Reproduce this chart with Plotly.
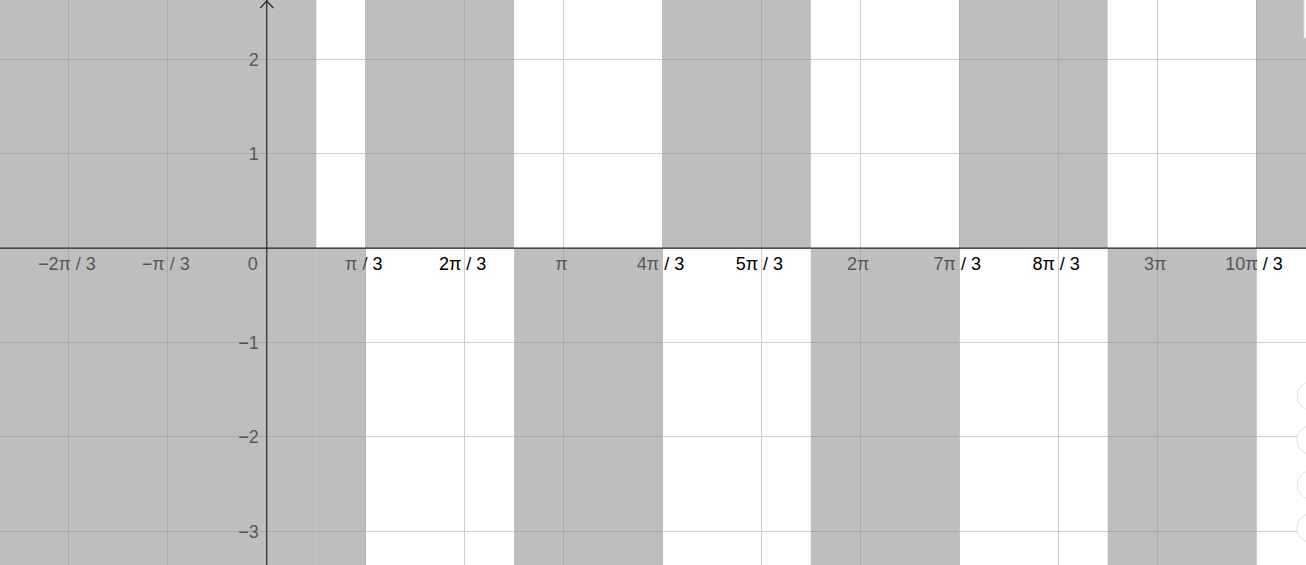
import numpy as np
import plotly.graph_objects as go

W, H = 1306, 565
PI = np.pi

# ---- data ----
# x tick positions in multiples of pi/3, and their labels
x_tick_mult = [-2, -1, 0, 1, 2, 3, 4, 5, 6, 7, 8, 9, 10]
x_tick_labels = ["−2π / 3", "−π / 3", "0", "π / 3", "2π / 3", "π", "4π / 3",
                 "5π / 3", "2π", "7π / 3", "8π / 3", "3π", "10π / 3"]
y_tick_vals = [-3, -2, -1, 1, 2]
y_tick_labels = ["−3", "−2", "−1", "1", "2"]

# shaded intervals (multiples of pi/6); upper half (y>0) and lower half (y<0)
upper_start = [-8, 2, 8, 14, 20]
upper_end = [1, 5, 11, 17, 24]
lower_start = [-8, 1, 5, 11, 17]
lower_end = [1, 2, 8, 14, 20]

x_range = [-2.824, 11.001]
y_range = [-3.356, 2.627]

# ---- styles ----
FONT = "Liberation Sans, Arial, sans-serif"
SHADE = "rgba(144,144,144,0.59)"
AXIS = "#2a2a2a"
GRID = "#cccccc"

px_x = (x_range[1] - x_range[0]) / W
px_y = (y_range[1] - y_range[0]) / H

x_grid = [m * PI / 3 for m in x_tick_mult]

fig = go.Figure()

# x tick labels (except origin)
xl = [(v, t) for v, t in zip(x_grid, x_tick_labels) if t != "0"]
fig.add_trace(go.Scatter(
    x=[v - 2 * px_x for v, _ in xl], y=[-17 * px_y] * len(xl),
    text=[t for _, t in xl], mode="text", textposition="middle center",
    textfont=dict(family=FONT, size=18, color="#000000"), hoverinfo="skip"))
# origin label
fig.add_trace(go.Scatter(
    x=[-9 * px_x], y=[-17 * px_y], text=["0"], mode="text",
    textposition="middle left",
    textfont=dict(family=FONT, size=18, color="#000000"), hoverinfo="skip"))
# y tick labels
fig.add_trace(go.Scatter(
    x=[-8 * px_x] * len(y_tick_vals), y=[v - 2 * px_y for v in y_tick_vals],
    text=y_tick_labels, mode="text", textposition="middle left",
    textfont=dict(family=FONT, size=18, color="#000000"), hoverinfo="skip"))

shapes = []
for s, e in zip(upper_start, upper_end):
    shapes.append(dict(type="rect", xref="x", yref="y", x0=s * PI / 6, x1=e * PI / 6,
                       y0=0, y1=10, fillcolor=SHADE, line=dict(width=0), layer="above"))
for s, e in zip(lower_start, lower_end):
    shapes.append(dict(type="rect", xref="x", yref="y", x0=s * PI / 6, x1=e * PI / 6,
                       y0=-10, y1=0, fillcolor=SHADE, line=dict(width=0), layer="above"))

# axes lines
shapes.append(dict(type="line", xref="paper", yref="y", x0=0, x1=1, y0=0, y1=0,
                   line=dict(color=AXIS, width=1.2), layer="above"))
shapes.append(dict(type="line", xref="x", yref="paper", x0=0, x1=0, y0=0, y1=1,
                   line=dict(color=AXIS, width=1.2), layer="above"))
# arrow at top of y axis
shapes.append(dict(type="path", xref="x", yref="y", xsizemode="pixel", ysizemode="pixel",
                   xanchor=0, yanchor=y_range[1], path="M-6.5,-8 L0,-1 L6.5,-8",
                   line=dict(color=AXIS, width=1.2), layer="above"))

# UI decorations on right edge
for cy in [396, 440, 485, 528]:
    shapes.append(dict(type="circle", xref="paper", yref="paper",
                       x0=(1297) / W, x1=(1325) / W,
                       y0=1 - (cy + 14) / H, y1=1 - (cy - 14) / H,
                       fillcolor="white", line=dict(color="#e4e4e4", width=1), layer="above"))
shapes.append(dict(type="rect", xref="paper", yref="paper",
                   x0=1304 / W, x1=1.01, y0=1 - 38 / H, y1=1.01,
                   fillcolor="white", line=dict(color="#dddddd", width=1), layer="above"))

fig.update_layout(
    width=W, height=H,
    margin=dict(l=0, r=0, t=0, b=0),
    paper_bgcolor="white", plot_bgcolor="white",
    showlegend=False,
    shapes=shapes,
    xaxis=dict(range=x_range, tickmode="array", tickvals=x_grid, showticklabels=False,
               showgrid=True, gridcolor=GRID, gridwidth=1, zeroline=False, ticks="",
               fixedrange=True),
    yaxis=dict(range=y_range, tickmode="array", tickvals=[-3, -2, -1, 0, 1, 2],
               showticklabels=False, showgrid=True, gridcolor=GRID, gridwidth=1,
               zeroline=False, ticks="", fixedrange=True),
)

fig.write_html("out.html", config={"displayModeBar": False},
               post_script="document.body.style.margin='0';document.body.style.overflow='hidden';")
